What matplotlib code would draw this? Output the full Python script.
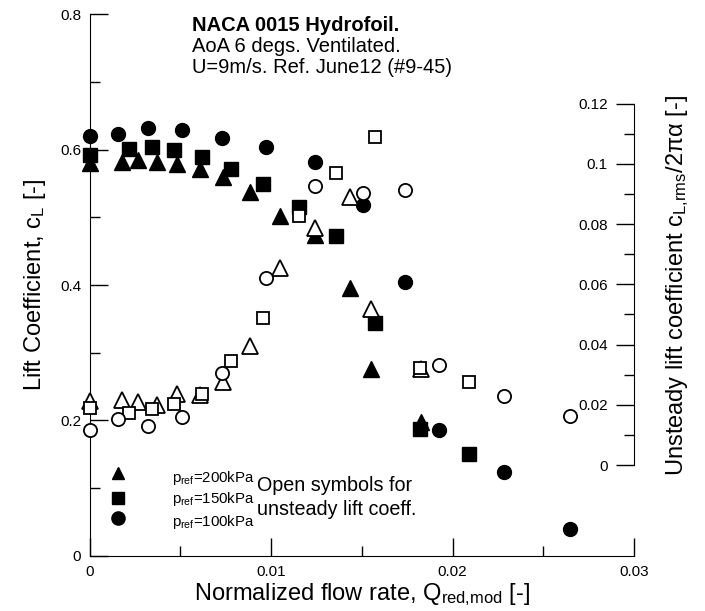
import matplotlib
matplotlib.use("Agg")
import matplotlib.pyplot as plt
from matplotlib.ticker import MultipleLocator, FuncFormatter

plt.rcParams['font.family'] = ['Liberation Sans', 'DejaVu Sans']
plt.rcParams['mathtext.fontset'] = 'custom'
plt.rcParams['mathtext.rm'] = 'Liberation Sans'
plt.rcParams['mathtext.it'] = 'Liberation Sans:italic'

# flow rate for each pressure series
q_200 = [0.0, 0.00177, 0.00269, 0.0037, 0.0048, 0.00606, 0.00736, 0.00885,
         0.01048, 0.01241, 0.01434, 0.01553, 0.01824]
q_150 = [0.0, 0.00216, 0.00342, 0.00466, 0.00617, 0.00781, 0.00957, 0.01155,
         0.0136, 0.01571, 0.01823, 0.0209]
q_100 = [0.0, 0.00159, 0.0032, 0.0051, 0.00728, 0.00975, 0.01241, 0.01507,
         0.01736, 0.01925, 0.02283, 0.0265]

# lift coefficient (filled symbols)
cl_200 = [0.580, 0.582, 0.585, 0.582, 0.579, 0.571, 0.560, 0.537, 0.502,
          0.474, 0.395, 0.276, 0.197]
cl_150 = [0.593, 0.601, 0.604, 0.600, 0.590, 0.571, 0.549, 0.516, 0.473,
          0.344, 0.188, 0.151]
cl_100 = [0.620, 0.623, 0.632, 0.629, 0.617, 0.604, 0.582, 0.518, 0.404,
          0.186, 0.123, 0.039]

# unsteady lift coefficient (open symbols)
rms_200 = [0.0213, 0.0216, 0.0210, 0.0199, 0.0236, 0.0232, 0.0277, 0.0395,
           0.0656, 0.0786, 0.0891, 0.0517, 0.0318]
rms_150 = [0.0188, 0.0172, 0.0185, 0.0201, 0.0236, 0.0346, 0.0487, 0.0827,
           0.0970, 0.1090, 0.0321, 0.0277]
rms_100 = [0.0116, 0.0153, 0.0129, 0.0158, 0.0306, 0.0620, 0.0926, 0.0904,
           0.0913, 0.0333, 0.0230, 0.0163]

legend_labels = ['200', '150', '100']

fmt = FuncFormatter(lambda v, p: f"{v:g}")

fig = plt.figure(figsize=(7.05, 6.11), dpi=100)
ax = fig.add_axes([0.127, 0.0905, 0.7723, 0.8858])

ms = 10
ax.plot(q_200, cl_200, '^', color='black', ms=ms + 1, ls='none', clip_on=False)
ax.plot(q_150, cl_150, 's', color='black', ms=ms - 0.5, ls='none', clip_on=False)
ax.plot(q_100, cl_100, 'o', color='black', ms=ms, ls='none', clip_on=False)

ax.set_xlim(0, 0.03)
ax.set_ylim(0, 0.8)
for s in ['top', 'right']:
    ax.spines[s].set_visible(False)
ax.xaxis.set_major_locator(MultipleLocator(0.01))
ax.xaxis.set_minor_locator(MultipleLocator(0.005))
ax.yaxis.set_major_locator(MultipleLocator(0.2))
ax.yaxis.set_minor_locator(MultipleLocator(0.1))
ax.xaxis.set_major_formatter(fmt)
ax.yaxis.set_major_formatter(fmt)
ax.tick_params(which='major', direction='in', length=13, width=1, labelsize=11, pad=7)
ax.tick_params(which='minor', direction='in', length=7, width=1)
ax.tick_params(axis='y', which='major', pad=6)

ax.set_xlabel(r'Normalized flow rate, Q$_{\mathrm{red{,}mod}}$ [-]', fontsize=17, labelpad=1)
ax.set_ylabel(r'Lift Coefficient, c$_{\mathrm{L}}$ [-]', fontsize=17, labelpad=9)

# right axis for unsteady lift coefficient, spine only from 0 to 0.12
ax2 = ax.twinx()
lo = -(555.7 - 465) / 60.2 * 0.02
hi = lo + 0.8 / 0.2 * 135.3 / 60.2 * 0.02
ax2.set_ylim(lo, hi)
for s in ['top', 'bottom', 'right']:
    ax2.spines[s].set_visible(False)
ax2.spines['left'].set_visible(True)
ax2.spines['left'].set_position(('axes', 1.0))
ax2.spines['left'].set_bounds(0, 0.12)
ax2.yaxis.set_ticks_position('left')
ax2.yaxis.set_label_position('right')
ax2.set_yticks([0, 0.02, 0.04, 0.06, 0.08, 0.1, 0.12])
ax2.set_yticks([0.01, 0.03, 0.05, 0.07, 0.09, 0.11], minor=True)
ax2.yaxis.set_major_formatter(fmt)
ax2.tick_params(which='major', direction='out', length=13, width=1, labelsize=11, pad=6)
ax2.tick_params(which='minor', direction='out', length=7, width=1)
ax2.set_ylabel('Unsteady lift coefficient c$_{\\mathrm{L{,}rms}}$/2\u03c0\u03b1 [-]',
               fontsize=17, labelpad=22)

ax2.plot(q_200, rms_200, '^', mfc='white', mec='black', mew=1.3, ms=ms + 1, ls='none', clip_on=False)
ax2.plot(q_150, rms_150, 's', mfc='white', mec='black', mew=1.3, ms=ms - 1, ls='none', clip_on=False)
ax2.plot(q_100, rms_100, 'o', mfc='white', mec='black', mew=1.3, ms=ms - 0.5, ls='none', clip_on=False)

# annotation block
ax.text(0.00564, 0.7756, 'NACA 0015 Hydrofoil.', fontsize=14.5, fontweight='bold', va='baseline')
ax.text(0.00564, 0.7446, 'AoA 6 degs. Ventilated.', fontsize=14.5, va='baseline')
ax.text(0.00564, 0.7135, 'U=9m/s. Ref. June12 (#9-45)', fontsize=14.5, va='baseline')

# manual legend
mark_y = [0.1222, 0.0857, 0.0557]
text_y = [0.1094, 0.0775, 0.0443]
mark_size = [8, 9, 9.5]
for m, my, ty, sz, p in zip(['^', 's', 'o'], mark_y, text_y, mark_size, legend_labels):
    ax.plot([0.00157], [my], m, color='black', ms=sz, ls='none')
    ax.text(0.00452, ty, 'p$_{\\mathrm{ref}}$=' + p + 'kPa', fontsize=10.8, va='baseline')
ax.text(0.0092, 0.0952, 'Open symbols for', fontsize=14.2, va='baseline')
ax.text(0.0092, 0.0604, 'unsteady lift coeff.', fontsize=14.2, va='baseline')

fig.savefig('out.png', dpi=100)
